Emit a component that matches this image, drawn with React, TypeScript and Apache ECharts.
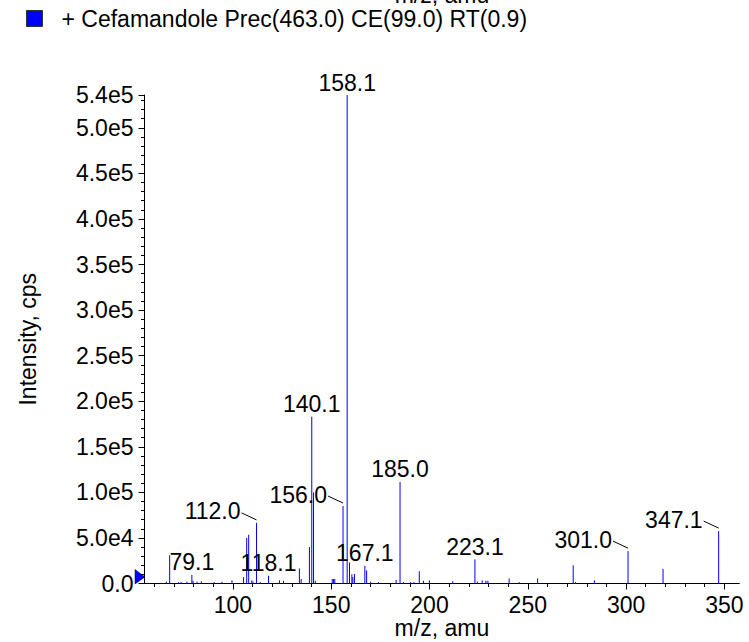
import React, { useEffect, useRef } from "react";
import * as echarts from "echarts";

const seriesName = "+ Cefamandole Prec(463.0) CE(99.0) RT(0.9)";
const xAxisTitle = "m/z, amu";
const yAxisTitle = "Intensity, cps";
const xTickValues = [100, 150, 200, 250, 300, 350];
const xMinorTickValues = [60, 70, 80, 90, 110, 120, 130, 140, 160, 170, 180, 190, 210, 220, 230, 240, 260, 270, 280, 290, 310, 320, 330, 340];
const yMinorTickValues = [10000, 20000, 30000, 40000, 60000, 70000, 80000, 90000, 110000, 120000, 130000, 140000, 160000, 170000, 180000, 190000, 210000, 220000, 230000, 240000, 260000, 270000, 280000, 290000, 310000, 320000, 330000, 340000, 360000, 370000, 380000, 390000, 410000, 420000, 430000, 440000, 460000, 470000, 480000, 490000, 510000, 520000, 530000];

const peakMz = [
  66.1, 67.8, 72.4, 73.6, 76.6, 79.1, 79.7, 81.7, 83.9, 90.5, 94.4, 99.5,
  105.4, 107.0, 108.0, 109.6, 110.2, 112.0, 113.9, 118.1, 123.7, 125.7,
  133.8, 134.7, 138.9, 140.1, 141.0, 141.9, 150.5, 151.2, 151.8, 156.0,
  158.1, 159.3, 160.5, 161.0, 161.8, 167.1, 168.0, 170.1, 174.0, 183.0,
  185.0, 186.7, 190.4, 192.1, 194.8, 196.9, 199.9, 211.8, 223.1, 224.3,
  226.8, 228.7, 229.7, 240.5, 245.6, 255.0, 273.1, 274.3, 283.9, 301.0,
  318.8, 347.1,
];
const peakIntensity = [
  2000, 31000, 1500, 1500, 2000, 9500, 3000, 2000, 2500, 1500, 2000, 3500,
  7000, 50000, 53500, 3500, 2000, 66500, 1500, 8500, 3500, 3000,
  16500, 5000, 40000, 183000, 100000, 3000, 5000, 5000, 5000, 85000,
  536000, 23000, 10000, 7000, 10500, 19500, 14500, 2000, 1500, 4000,
  111500, 1500, 1500, 1500, 13500, 3000, 3500, 2500, 26500, 2000,
  3500, 3000, 3000, 5500, 1500, 5500, 20000, 1500, 3500, 35500,
  16000, 57500,
];
const peakLabels = ["79.1", "112.0", "118.1", "140.1", "156.0", "158.1", "167.1", "185.0", "223.1", "301.0", "347.1"];
const leaderLabels = ["112.0", "156.0", "301.0", "347.1"];

const FONT = "'Liberation Sans', Arial, Helvetica, sans-serif";
const FS = 23;

function expLabel(v: number): string {
  if (v === 0) return "0.0";
  return v.toExponential(1).replace("e+", "e");
}

export default function App() {
  const ref = useRef<HTMLDivElement>(null);
  useEffect(() => {
    if (!ref.current) return;
    const chart = echarts.init(ref.current, undefined, { renderer: "svg" });
    const data = peakMz.map((m, i) => [m, peakIntensity[i]]);
    const option = {
      animation: false,
      backgroundColor: "#ffffff",
      textStyle: { fontFamily: FONT },
      legend: {
        left: 26,
        top: 7,
        padding: 0,
        itemWidth: 16,
        itemHeight: 16,
        icon: "rect",
        itemStyle: { borderColor: "#333", borderWidth: 1 },
        textStyle: { fontSize: FS, color: "#000", fontFamily: FONT, padding: [3, 0, 0, 14] },
        data: [{ name: seriesName, icon: "rect" }],
      },
      grid: { left: 144.5, right: 9.7, top: 95, bottom: 58.5, containLabel: false, outerBoundsMode: "none" },
      xAxis: [
        {
          type: "value",
          min: 55,
          max: 357.6,
          position: "bottom",
          name: xAxisTitle,
          nameLocation: "middle",
          nameGap: 33,
          nameMoveOverlap: false,
          nameTextStyle: { fontSize: FS, color: "#000", fontFamily: FONT },
          axisLine: { show: true, lineStyle: { color: "#000", width: 1 } },
          axisTick: { show: true, length: 6, lineStyle: { color: "#000" }, customValues: xTickValues },
          axisLabel: { customValues: xTickValues, fontSize: FS, color: "#000", fontFamily: FONT, margin: 10 },
          splitLine: { show: false },
        },
        {
          type: "value",
          min: 55,
          max: 357.6,
          position: "bottom",
          axisLine: { show: false },
          axisTick: { show: true, length: 3.5, lineStyle: { color: "#000" }, customValues: xMinorTickValues },
          axisLabel: { show: false },
          splitLine: { show: false },
        },
      ],
      yAxis: [
        {
          type: "value",
          min: 0,
          max: 536000,
          interval: 50000,
          position: "left",
          name: yAxisTitle,
          nameLocation: "middle",
          nameGap: 105,
          nameRotate: 90,
          nameMoveOverlap: false,
          nameTextStyle: { fontSize: FS, color: "#000", fontFamily: FONT },
          axisLine: { show: true, lineStyle: { color: "#000", width: 1 } },
          axisTick: { show: true, length: 6, lineStyle: { color: "#000" } },
          axisLabel: { fontSize: FS, color: "#000", fontFamily: FONT, margin: 11, formatter: expLabel, showMinLabel: true, showMaxLabel: true },
          splitLine: { show: false },
        },
        {
          type: "value",
          min: 0,
          max: 536000,
          position: "left",
          axisLine: { show: false },
          axisTick: { show: true, length: 3.5, lineStyle: { color: "#000" }, customValues: yMinorTickValues },
          axisLabel: { show: false },
          splitLine: { show: false },
        },
      ],
      series: [
        {
          type: "custom",
          name: seriesName,
          xAxisIndex: 0,
          yAxisIndex: 0,
          itemStyle: { color: "#0000ff" },
          clip: false,
          data,
          renderItem: (params: any, api: any) => {
            const mz = api.value(0);
            const inten = api.value(1);
            const base = api.coord([mz, 0]);
            const top = api.coord([mz, inten]);
            const children: any[] = [
              {
                type: "line",
                shape: { x1: base[0], y1: base[1], x2: top[0], y2: top[1] },
                style: { stroke: "#0000ff", lineWidth: 1 },
              },
            ];
            const lbl = peakLabels.find((l) => Math.abs(parseFloat(l) - mz) < 1e-6);
            if (lbl) {
              if (leaderLabels.indexOf(lbl) >= 0) {
                children.push({
                  type: "line",
                  shape: { x1: top[0] - 15, y1: top[1] - 10, x2: top[0], y2: top[1] - 3 },
                  style: { stroke: "#000", lineWidth: 1 },
                });
                children.push({
                  type: "text",
                  style: {
                    text: lbl,
                    x: top[0] - 16,
                    y: top[1] - 11.5,
                    fill: "#000",
                    fontSize: FS,
                    fontFamily: FONT,
                    align: "right",
                    verticalAlign: "middle",
                  },
                });
              } else {
                children.push({
                  type: "text",
                  style: {
                    text: lbl,
                    x: top[0],
                    y: top[1] - 1,
                    fill: "#000",
                    fontSize: FS,
                    fontFamily: FONT,
                    align: "center",
                    verticalAlign: "bottom",
                  },
                });
              }
            }
            return { type: "group", children };
          },
        },
      ],
      graphic: [
        {
          type: "polygon",
          shape: { points: [[135, 569.5], [135, 584], [145, 577]] },
          style: { fill: "#0000ff", stroke: "#000033", lineWidth: 0.5 },
        },
        {
          type: "text",
          style: {
            text: xAxisTitle,
            x: 442,
            y: 6,
            fill: "#000",
            fontSize: FS,
            fontFamily: FONT,
            align: "center",
            verticalAlign: "bottom",
          },
        },
      ],
    };
    chart.setOption(option as any);
    return () => chart.dispose();
  }, []);
  return (
    <div
      ref={ref}
      style={{ position: "fixed", left: 0, top: 0, width: 749, height: 642, background: "#fff" }}
    />
  );
}
